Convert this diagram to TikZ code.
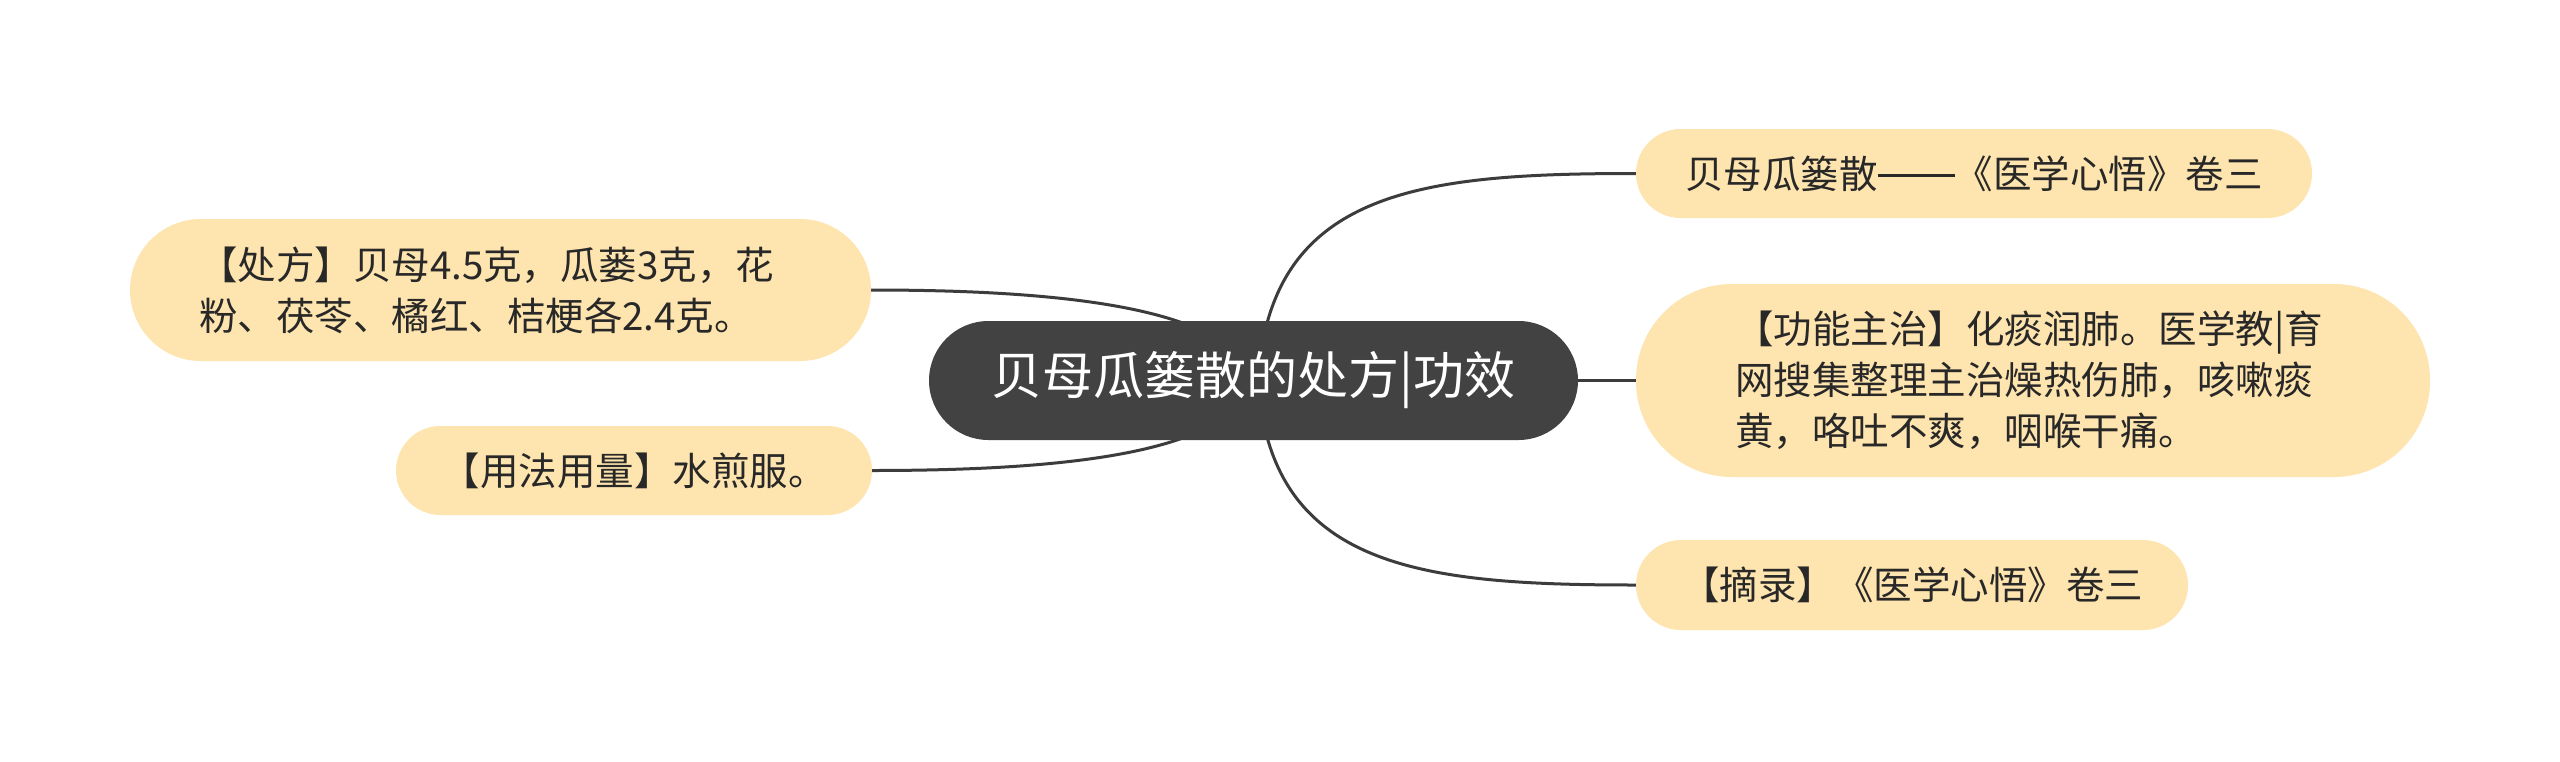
\documentclass[tikz,border=0pt]{standalone}
\usepackage{fontspec}
\setmainfont{Noto Sans CJK SC}
\usetikzlibrary{calc,backgrounds}
\definecolor{leaffill}{RGB}{254,228,174}
\definecolor{rootfill}{RGB}{66,66,66}
\definecolor{linecol}{RGB}{60,60,60}
\definecolor{leaftext}{RGB}{40,40,40}
\newcommand{\longdash}{\rule[0.3em]{2em}{0.06em}}
\begin{document}
\begin{tikzpicture}[x=1pt,y=-1pt,
  leaf/.style={fill=leaffill,draw=none,text=leaftext,inner ysep=0pt,
    font=\fontsize{38.5}{51}\selectfont},
  rootbox/.style={fill=rootfill,draw=none,text=white,inner sep=0pt,
    minimum width=649pt,minimum height=119pt,rounded corners=59.5pt,
    font=\fontsize{51}{60}\selectfont},
  conn/.style={draw=linecol,line width=3pt}]
\useasboundingbox (0,0) rectangle (2560,761);

\node[rootbox] (c) at (1253.5,380.5) {贝母瓜篓散的处方|功效};

\node[leaf,inner xsep=0pt,minimum width=676pt,minimum height=89pt,rounded corners=44.5pt]
  (r1) at (1974,173.5) {贝母瓜篓散\longdash《医学心悟》卷三};
\node[leaf,inner xsep=99pt,text width=596pt,align=left,minimum height=193pt,rounded corners=96pt]
  (r2) at (2033,380.5) {【功能主治】化痰润肺。医学教|育\\网搜集整理主治燥热伤肺，咳嗽痰\\黄，咯吐不爽，咽喉干痛。};
\node[leaf,inner xsep=0pt,minimum width=552pt,minimum height=90pt,rounded corners=45pt]
  (r3) at (1912,585) {【摘录】《医学心悟》卷三};

\node[leaf,inner xsep=69pt,text width=603pt,align=left,minimum height=142pt,rounded corners=71pt]
  (l1) at (500.5,290) {【处方】贝母4.5克，瓜蒌3克，花\\粉、茯苓、橘红、桔梗各2.4克。};
\node[leaf,inner xsep=0pt,minimum width=476pt,minimum height=89pt,rounded corners=44.5pt]
  (l2) at (634,470.5) {【用法用量】水煎服。};

\begin{scope}[on background layer]
  \fill[white] (0,0) rectangle (2560,761);
  \draw[conn] ($(c.center)+(4.5,0)$) .. controls (1270,190) and (1420,173.5) .. (r1.west);
  \draw[conn] (c.east) -- (r2.west);
  \draw[conn] ($(c.center)+(4.5,0)$) .. controls (1270,568) and (1420,585) .. (r3.west);
  \draw[conn] (l1.east) .. controls (1000,290) and (1130,298) .. ($(c.center)+(-53.5,-50.5)$);
  \draw[conn] (l2.east) .. controls (1000,470.5) and (1130,463) .. ($(c.center)+(-53.5,50.5)$);
\end{scope}
\end{tikzpicture}
\end{document}
